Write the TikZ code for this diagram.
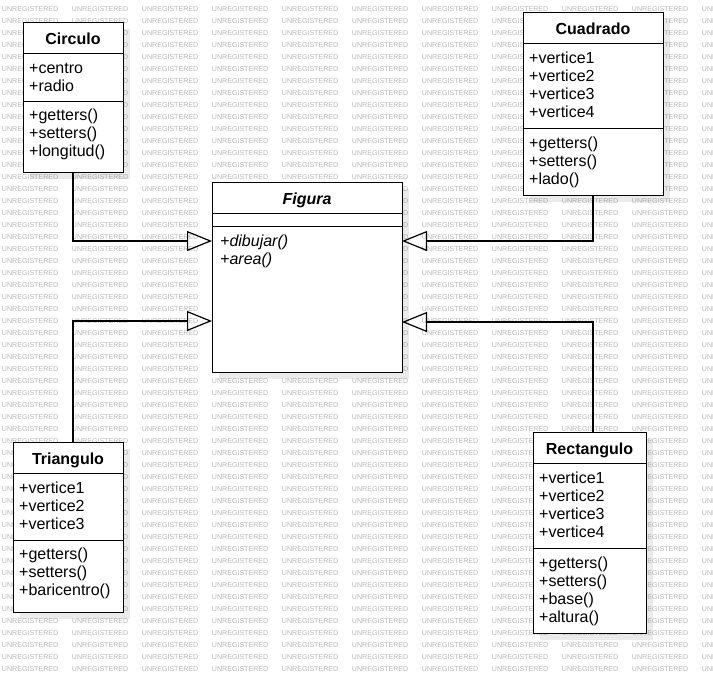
\documentclass[tikz,border=0pt]{standalone}
\usepackage{fontspec}
\setmainfont{Liberation Sans}
\usetikzlibrary{arrows.meta,shadows}
\begin{document}
\begin{tikzpicture}[x=1pt,y=-1pt,
  wmtext/.style={font=\fontsize{7.1}{8}\selectfont, text=black!28, anchor=west, inner sep=0pt},
  umlbox/.style={draw=black, line width=1pt, fill=white, anchor=north west, inner sep=0pt, outer sep=0pt,
    drop shadow={shadow xshift=7pt, shadow yshift=-7pt, opacity=0.08, fill=black}},
  ttl/.style={font=\fontsize{16}{18}\selectfont\bfseries, anchor=base, inner sep=0pt},
  member/.style={font=\fontsize{16}{18}\selectfont, anchor=base west, inner sep=0pt},
  divider/.style={line width=1pt},
  inherit/.style={line width=1.2pt, -{Triangle[open,length=25pt,width=20pt]}},
]
\fill[white] (0,0) rectangle (713,683);
\useasboundingbox (0,0) rectangle (713,683);

% background watermark, clipped to the page
\begin{scope}
\clip (0,0) rectangle (713,683);
\foreach \r in {0,...,55}{
  \foreach \c in {0,...,10}{
    \node[wmtext] (wm-\r-\c) at ({1.7+70*\c},{9+12*\r}) {UNREGISTERED};
  }
}
\end{scope}

% Circulo
\node[umlbox, minimum width=100pt, minimum height=150pt] (circ) at (23,22) {};
\draw[divider] ([yshift=-31pt]circ.north west) -- ([yshift=-31pt]circ.north east);
\draw[divider] ([yshift=-79pt]circ.north west) -- ([yshift=-79pt]circ.north east);
\node[ttl] (circ-name) at (73,44) {Circulo};
\node[member] (circ-a1) at (29,73) {+centro};
\node[member] (circ-a2) at (29,91) {+radio};
\node[member] (circ-m1) at (29,120) {+getters()};
\node[member] (circ-m2) at (29,138) {+setters()};
\node[member] (circ-m3) at (29,156) {+longitud()};

% Cuadrado
\node[umlbox, minimum width=140pt, minimum height=183pt] (cuad) at (523,12) {};
\draw[divider] ([yshift=-31pt]cuad.north west) -- ([yshift=-31pt]cuad.north east);
\draw[divider] ([yshift=-116pt]cuad.north west) -- ([yshift=-116pt]cuad.north east);
\node[ttl] (cuad-name) at (593,34) {Cuadrado};
\node[member] (cuad-a1) at (529,63) {+vertice1};
\node[member] (cuad-a2) at (529,81) {+vertice2};
\node[member] (cuad-a3) at (529,99) {+vertice3};
\node[member] (cuad-a4) at (529,117) {+vertice4};
\node[member] (cuad-m1) at (529,148) {+getters()};
\node[member] (cuad-m2) at (529,166) {+setters()};
\node[member] (cuad-m3) at (529,184) {+lado()};

% Figura (abstract)
\node[umlbox, minimum width=190pt, minimum height=190pt] (fig) at (212,182) {};
\draw[divider] ([yshift=-31pt]fig.north west) -- ([yshift=-31pt]fig.north east);
\draw[divider] ([yshift=-44pt]fig.north west) -- ([yshift=-44pt]fig.north east);
\node[ttl, font=\fontsize{16}{18}\selectfont\bfseries\itshape] (fig-name) at (307,204) {Figura};
\node[member, font=\fontsize{16}{18}\selectfont\itshape] (fig-m1) at (220,246) {+dibujar()};
\node[member, font=\fontsize{16}{18}\selectfont\itshape] (fig-m2) at (220,264) {+area()};

% Triangulo
\node[umlbox, minimum width=110pt, minimum height=170pt] (tri) at (13,442) {};
\draw[divider] ([yshift=-31pt]tri.north west) -- ([yshift=-31pt]tri.north east);
\draw[divider] ([yshift=-98pt]tri.north west) -- ([yshift=-98pt]tri.north east);
\node[ttl] (tri-name) at (68,464) {Triangulo};
\node[member] (tri-a1) at (19,493) {+vertice1};
\node[member] (tri-a2) at (19,511) {+vertice2};
\node[member] (tri-a3) at (19,529) {+vertice3};
\node[member] (tri-m1) at (19,559) {+getters()};
\node[member] (tri-m2) at (19,577) {+setters()};
\node[member] (tri-m3) at (19,595) {+baricentro()};

% Rectangulo
\node[umlbox, minimum width=113pt, minimum height=201pt] (rect) at (533,432) {};
\draw[divider] ([yshift=-31pt]rect.north west) -- ([yshift=-31pt]rect.north east);
\draw[divider] ([yshift=-116pt]rect.north west) -- ([yshift=-116pt]rect.north east);
\node[ttl] (rect-name) at (589.5,454) {Rectangulo};
\node[member] (rect-a1) at (539,483) {+vertice1};
\node[member] (rect-a2) at (539,501) {+vertice2};
\node[member] (rect-a3) at (539,519) {+vertice3};
\node[member] (rect-a4) at (539,537) {+vertice4};
\node[member] (rect-m1) at (539,568) {+getters()};
\node[member] (rect-m2) at (539,586) {+setters()};
\node[member] (rect-m3) at (539,604) {+base()};
\node[member] (rect-m4) at (539,622) {+altura()};

% generalisations
\draw[inherit] (circ.south) |- ([yshift=-59pt]fig.north west);
\draw[inherit] (tri.north -| circ.south) |- ([yshift=-139pt]fig.north west);
\draw[inherit] (cuad.south) |- ([yshift=-59pt]fig.north east);
\draw[inherit] (rect.north -| cuad.south) |- ([yshift=-140pt]fig.north east);
\end{tikzpicture}
\end{document}
